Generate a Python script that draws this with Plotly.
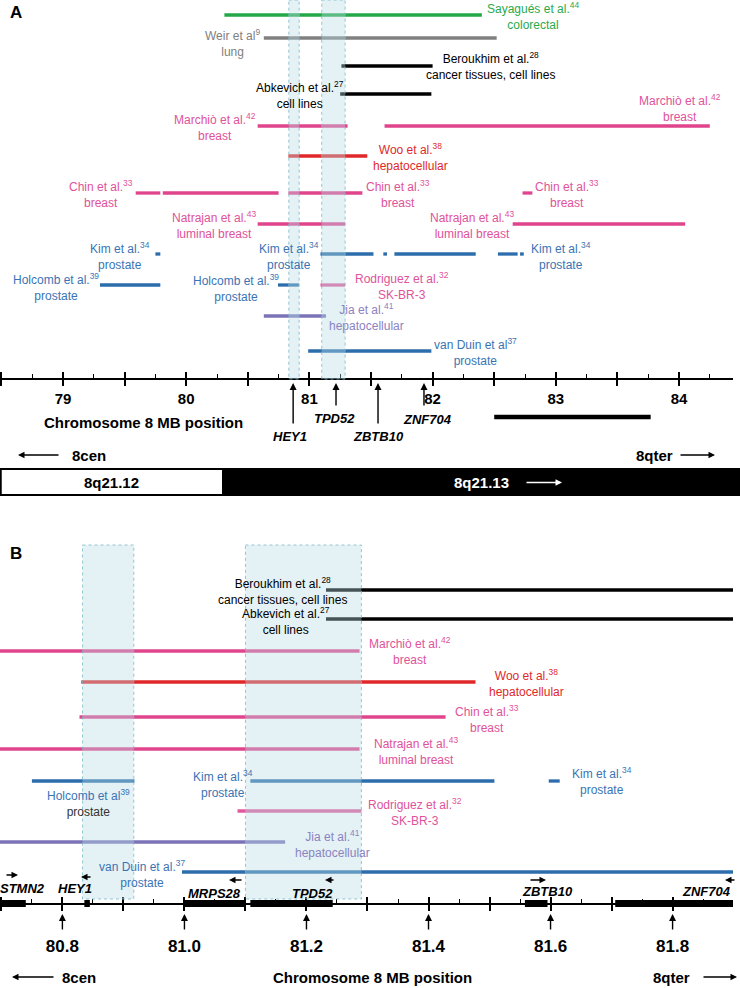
import plotly.graph_objects as go

W, H = 740, 988
FONT = "Liberation Sans, Arial, sans-serif"

# ---------------- DATA (Mb positions on chromosome 8) ----------------
# Panel A intervals (start, end)
SAYAGUES_A = [(80.31, 82.40)]
WEIR_A = [(80.63, 82.52)]
BEROUKHIM_A = [(81.26, 82.00)]
ABKEVICH_A = [(81.25, 81.99)]
MARCHIO_A = [(80.58, 81.31), (81.61, 84.25)]
WOO_A = [(80.83, 81.47)]
CHIN_A = [(79.59, 79.79), (79.81, 80.75), (80.83, 81.43), (82.73, 82.81)]
NATRAJAN_A = [(80.58, 81.29), (82.65, 84.05)]
KIM_A = [(79.75, 79.79), (81.09, 81.52), (81.60, 81.63), (81.69, 82.35), (82.53, 82.69), (82.71, 82.74)]
HOLCOMB_A = [(79.30, 79.79), (80.745, 80.915)]
RODRIGUEZ_A = [(81.09, 81.29)]
JIA_A = [(80.63, 81.135)]
VANDUIN_A = [(80.99, 81.99)]
REGION_BAR_A = [(82.50, 83.77)]

# Panel B intervals (start, end)
BEROUKHIM_B = [(81.232, 81.95)]
ABKEVICH_B = [(81.232, 81.95)]
MARCHIO_B = [(80.65, 81.287)]
WOO_B = [(80.831, 81.477)]
CHIN_B = [(80.828, 81.428)]
NATRAJAN_B = [(80.65, 81.287)]
KIM_B = [(81.108, 81.508), (81.597, 81.615)]
HOLCOMB_B = [(80.75, 80.918)]
RODRIGUEZ_B = [(81.087, 81.29)]
JIA_B = [(80.65, 81.165)]
VANDUIN_B = [(80.996, 81.95)]

# Highlighted regions (Mb)
SHADED_REGIONS = [(80.833, 80.917), (81.10, 81.29)]

# Genes
GENES_A = ["HEY1", "TPD52", "ZBTB10", "ZNF704"]
GENE_POS_A = [80.868, 81.216, 81.557, 81.93]
GENES_B = ["STMN2", "HEY1", "MRPS28", "TPD52", "ZBTB10", "ZNF704"]
GENE_SPAN_B = [(80.65, 80.74), (80.836, 80.845), (81.0, 81.10), (81.108, 81.243), (81.558, 81.595), (81.706, 81.95)]
GENE_LABEL_B = [80.735, 80.82, 81.05, 81.21, 81.595, 81.855]

# Axis ticks
A_MAJOR = [78.5 + 0.5 * i for i in range(13)]
A_LABELS = [str(int(v)) if abs(v - round(v)) < 1e-9 else "" for v in A_MAJOR]
B_MAJOR = [round(80.7 + 0.1 * i, 2) for i in range(13)]
B_LABELS = ["%.1f" % v if round(v * 10) % 2 == 0 else "" for v in B_MAJOR]
B_ARROW_TICKS = [80.8, 81.0, 81.2, 81.4, 81.6, 81.8]

# ---------------- STYLE / LAYOUT ----------------
GREEN = "#25a84a"
GRAY = "#808080"
BLACK = "#000000"
PINK = "#e0448d"
RED = "#e0282a"
BLUE = "#2c6dac"
PURPLE = "#7b73b8"
PINK_T = "#e0529a"
BLUE_T = "#3a74b4"
PURPLE_T = "#8a82c2"
GREEN_T = "#2aaa4c"

AX_A_Y = 379
AX_B_Y = 904

rows_a = [
    (SAYAGUES_A, GREEN, 15), (WEIR_A, GRAY, 38), (BEROUKHIM_A, BLACK, 66),
    (ABKEVICH_A, BLACK, 94), (MARCHIO_A, PINK, 126), (WOO_A, RED, 156),
    (CHIN_A, PINK, 193), (NATRAJAN_A, PINK, 224), (KIM_A, BLUE, 254),
    (HOLCOMB_A, BLUE, 285), (RODRIGUEZ_A, "#e2589c", 285), (JIA_A, PURPLE, 316),
    (VANDUIN_A, BLUE, 351),
]
rows_b = [
    (BEROUKHIM_B, BLACK, 590), (ABKEVICH_B, BLACK, 619), (MARCHIO_B, PINK, 651),
    (WOO_B, RED, 682), (CHIN_B, PINK, 717), (NATRAJAN_B, PINK, 749),
    (KIM_B, BLUE, 781), (HOLCOMB_B, BLUE, 781), (RODRIGUEZ_B, "#e2589c", 811),
    (JIA_B, PURPLE, 842), (VANDUIN_B, BLUE, 872),
]


def seg_xy(intervals, yrow):
    xs, ys = [], []
    for s, e in intervals:
        xs += [s, e, None]
        ys += [yrow, yrow, None]
    return xs, ys


fig = go.Figure()
for intervals, col, yrow in rows_a:
    xs, ys = seg_xy(intervals, yrow)
    fig.add_trace(go.Scatter(x=xs, y=ys, mode="lines", line=dict(color=col, width=3.3),
                             xaxis="x", yaxis="y", hoverinfo="skip", showlegend=False))
xs, ys = seg_xy(REGION_BAR_A, 417)
fig.add_trace(go.Scatter(x=xs, y=ys, mode="lines", line=dict(color=BLACK, width=4.5),
                         xaxis="x", yaxis="y", hoverinfo="skip", showlegend=False))

for intervals, col, yrow in rows_b:
    xs, ys = seg_xy(intervals, yrow)
    fig.add_trace(go.Scatter(x=xs, y=ys, mode="lines", line=dict(color=col, width=3.3),
                             xaxis="x2", yaxis="y", hoverinfo="skip", showlegend=False))
xs, ys = seg_xy(GENE_SPAN_B, AX_B_Y - 0.5)
fig.add_trace(go.Scatter(x=xs, y=ys, mode="lines", line=dict(color=BLACK, width=7),
                         xaxis="x2", yaxis="y", hoverinfo="skip", showlegend=False))

# dummy traces to make duplicate axes (crossing major ticks) render
fig.add_trace(go.Scatter(x=[None], y=[None], xaxis="x3", yaxis="y", showlegend=False))
fig.add_trace(go.Scatter(x=[None], y=[None], xaxis="x4", yaxis="y", showlegend=False))

shapes = []
for s, e in SHADED_REGIONS:
    shapes.append(dict(type="rect", xref="x", yref="y", x0=s, x1=e, y0=0, y1=AX_A_Y,
                       fillcolor="rgba(185,222,230,0.38)", layer="above",
                       line=dict(color="rgba(120,185,200,0.8)", width=1, dash="dot")))
    shapes.append(dict(type="rect", xref="x2", yref="y", x0=s, x1=e, y0=545, y1=AX_B_Y - 5,
                       fillcolor="rgba(185,222,230,0.38)", layer="above",
                       line=dict(color="rgba(120,185,200,0.8)", width=1, dash="dot")))
# chromosome band
shapes.append(dict(type="rect", xref="paper", yref="y", x0=0.001, x1=223 / W, y0=469, y1=495,
                   fillcolor="white", line=dict(color="black", width=2)))
shapes.append(dict(type="rect", xref="paper", yref="y", x0=223 / W, x1=1, y0=469, y1=495,
                   fillcolor="black", line=dict(color="black", width=2)))

ann = []


def lab(px, py, text, color=BLACK, size=12, anchor="center", bold=False):
    ann.append(dict(x=px / W, xref="paper", y=py, yref="y", text=text, showarrow=False,
                    xanchor=anchor, yanchor="middle", align="center",
                    font=dict(family=FONT, size=size, color=color,
                              weight="bold" if bold else "normal")))


def arrow_px(hx, hy, ax, ay, color=BLACK, width=1.3):
    ann.append(dict(x=hx / W, xref="paper", y=hy, yref="y", ax=ax, ay=ay, text="",
                    showarrow=True, arrowhead=2, arrowsize=1, arrowwidth=width, arrowcolor=color))


# Panel letters
lab(8, 12, "A", size=17, anchor="left", bold=True)
lab(8, 553, "B", size=17, anchor="left", bold=True)

# Panel A labels
lab(533, 16, "Sayagués et al.<sup>44</sup><br>colorectal", GREEN_T)
lab(232, 42.5, "Weir et al<sup>9</sup><br>lung", GRAY)
lab(490, 66, "Beroukhim et al.<sup>28</sup><br>cancer tissues, cell lines", BLACK)
lab(300, 95, "Abkevich et al.<sup>27</sup><br>cell lines", BLACK)
lab(215, 127, "Marchiò et al.<sup>42</sup><br>breast", PINK_T)
lab(680, 108, "Marchiò et al.<sup>42</sup><br>breast", PINK_T)
lab(410, 156.5, "Woo et al.<sup>38</sup><br>hepatocellular", RED)
lab(101, 194, "Chin et al.<sup>33</sup><br>breast", PINK_T)
lab(398, 194, "Chin et al.<sup>33</sup><br>breast", PINK_T)
lab(567, 194, "Chin et al.<sup>33</sup><br>breast", PINK_T)
lab(214, 224.5, "Natrajan et al.<sup>43</sup><br>luminal breast", PINK_T)
lab(472, 224.5, "Natrajan et al.<sup>43</sup><br>luminal breast", PINK_T)
lab(120, 255.5, "Kim et al.<sup>34</sup><br>prostate", BLUE_T)
lab(289, 255.5, "Kim et al.<sup>34</sup><br>prostate", BLUE_T)
lab(561, 255.5, "Kim et al.<sup>34</sup><br>prostate", BLUE_T)
lab(56, 286.5, "Holcomb et al.<sup>39</sup><br>prostate", BLUE_T)
lab(236, 287.5, "Holcomb et al.<sup>39</sup><br>prostate", BLUE_T)
lab(402, 285.5, "Rodriguez et al.<sup>32</sup><br>SK-BR-3", PINK_T)
lab(366, 317, "Jia et al.<sup>41</sup><br>hepatocellular", PURPLE_T)
lab(475, 351.5, "van Duin et al<sup>37</sup><br>prostate", BLUE_T)

# Panel A axis title / genes
lab(143, 422, "Chromosome 8 MB position", BLACK, size=15, bold=True)
gene_lab_a = [(290, 436), (334, 418), (378, 436), (427, 419)]
gene_tail_a = [425, 407, 425, 407]
for g, gx, (lx, ly), tail in zip(GENES_A, GENE_POS_A, gene_lab_a, gene_tail_a):
    ann.append(dict(x=gx, xref="x", y=383, yref="y", ax=gx, axref="x", ay=tail, ayref="y",
                    text="", showarrow=True, arrowhead=2, arrowsize=1, arrowwidth=1.4,
                    arrowcolor=BLACK))
    lab(lx, ly, "<i>" + g + "</i>", BLACK, size=13, bold=True)

lab(70, 455, "8cen", BLACK, size=15, anchor="left", bold=True)
arrow_px(18, 455, 42, 0)
lab(675, 455, "8qter", BLACK, size=15, anchor="right", bold=True)
arrow_px(715, 455, -36, 0)
lab(111, 482.5, "8q21.12", BLACK, size=15, bold=True)
lab(481, 482.5, "8q21.13", "white", size=15, bold=True)
arrow_px(562, 482.5, -37, 0, color="white")

# Panel B labels
lab(282, 590.5, "Beroukhim et al.<sup>28</sup><br>cancer tissues, cell lines", BLACK)
lab(286, 621, "Abkevich et al.<sup>27</sup><br>cell lines", BLACK)
lab(410, 651, "Marchiò et al.<sup>42</sup><br>breast", PINK_T)
lab(526, 682.5, "Woo et al.<sup>38</sup><br>hepatocellular", RED)
lab(487, 718.5, "Chin et al.<sup>33</sup><br>breast", PINK_T)
lab(416, 750.5, "Natrajan et al.<sup>43</sup><br>luminal breast", PINK_T)
lab(223, 783.5, "Kim et al.<sup>34</sup><br>prostate", BLUE_T)
lab(602, 781, "Kim et al.<sup>34</sup><br>prostate", BLUE_T)
lab(88, 803, "Holcomb et al<sup>39</sup><br><span style='color:#333333'>prostate</span>", BLUE_T)
lab(415, 812, "Rodriguez et al.<sup>32</sup><br>SK-BR-3", PINK_T)
lab(332, 843.5, "Jia et al.<sup>41</sup><br>hepatocellular", PURPLE_T)
lab(142, 874, "van Duin et al.<sup>37</sup><br>prostate", BLUE_T)

# Panel B gene labels and direction arrows
gene_lab_y_b = [888, 888, 893, 893, 891, 891]
for g, gx, gy in zip(GENES_B, GENE_LABEL_B, gene_lab_y_b):
    ann.append(dict(x=gx, xref="x2", y=gy, yref="y", text="<i>" + g + "</i>", showarrow=False,
                    xanchor="center", yanchor="middle",
                    font=dict(family=FONT, size=13, color=BLACK, weight="bold")))
dir_arrows = [(18, 875, -13), (81, 877, 11), (229, 880, 14), (325, 880, 10), (546, 880, -17), (725, 880, 11)]
for hx, hy, ax in dir_arrows:
    arrow_px(hx, hy, ax, 0, width=1.3)
for t in B_ARROW_TICKS:
    ann.append(dict(x=t, xref="x2", y=914, yref="y", ax=0, ay=17, text="", showarrow=True,
                    arrowhead=2, arrowsize=1, arrowwidth=1.4, arrowcolor=BLACK))

lab(60, 977, "8cen", BLACK, size=15, anchor="left", bold=True)
arrow_px(12, 977, 43, 0)
lab(372, 977, "Chromosome 8 MB position", BLACK, size=15, bold=True)
lab(692, 977, "8qter", BLACK, size=15, anchor="right", bold=True)
arrow_px(737, 977, -35, 0)

A_RANGE = [79 - 63 / 123.2, 79 + (733 - 63) / 123.2]
B_RANGE = [80.8 - 63 / 616.0, 80.8 + (W - 63) / 616.0]

common = dict(showgrid=False, zeroline=False, anchor="free", linecolor=BLACK,
              tickcolor=BLACK, tickmode="array", automargin=False)

fig.update_layout(
    width=W, height=H, margin=dict(l=0, r=0, t=0, b=0, pad=0, autoexpand=False),
    paper_bgcolor="white", plot_bgcolor="white", showlegend=False,
    xaxis=dict(**common, domain=[0, 733 / W], range=A_RANGE, position=1 - AX_A_Y / H,
               showline=True, linewidth=1.6, ticks="inside", ticklen=6, tickwidth=1.5,
               tickvals=A_MAJOR, ticktext=A_LABELS, ticklabelstandoff=6,
               tickfont=dict(family=FONT, size=15, color=BLACK, weight="bold"),
               minor=dict(ticks="inside", ticklen=4, tickwidth=1, tickcolor=BLACK,
                          tickmode="linear", tick0=78.25, dtick=0.25)),
    xaxis3=dict(**common, domain=[0, 733 / W], range=A_RANGE, position=1 - AX_A_Y / H,
                overlaying="x", showline=False, ticks="outside", ticklen=6, tickwidth=1.5,
                tickvals=A_MAJOR, showticklabels=False),
    xaxis2=dict(**common, domain=[0, 1], range=B_RANGE, position=1 - AX_B_Y / H,
                overlaying="x", showline=True, linewidth=1.6, ticks="inside", ticklen=6,
                tickwidth=1.5, tickvals=B_MAJOR, ticktext=B_LABELS, ticklabelstandoff=27,
                tickfont=dict(family=FONT, size=17, color=BLACK, weight="bold"),
                minor=dict(ticks="inside", ticklen=4, tickwidth=1, tickcolor=BLACK,
                           tickmode="linear", tick0=80.65, dtick=0.05)),
    xaxis4=dict(**common, domain=[0, 1], range=B_RANGE, position=1 - AX_B_Y / H,
                overlaying="x", showline=False, ticks="outside", ticklen=6, tickwidth=1.5,
                tickvals=B_MAJOR, showticklabels=False),
    yaxis=dict(range=[H, 0], domain=[0, 1], visible=False, fixedrange=True, automargin=False),
    shapes=shapes, annotations=ann,
)

fig.write_html("out.html", config={"displayModeBar": False},
               post_script="document.body.style.margin='0px';document.body.style.overflow='hidden';")
